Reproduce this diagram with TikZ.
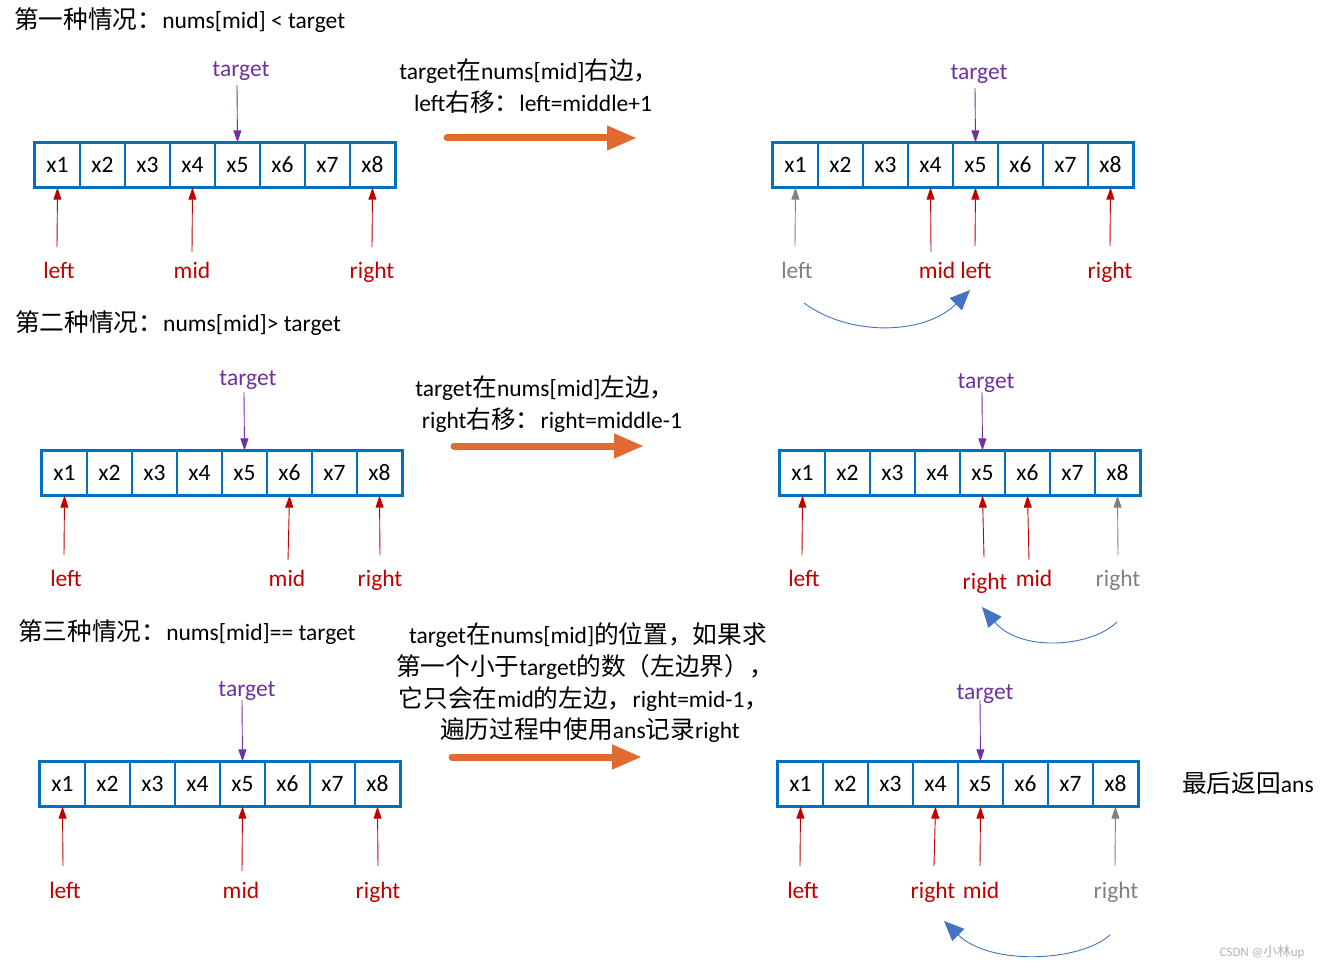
\documentclass[tikz,border=0pt]{standalone}
\usepackage{fontspec}
\setmainfont{Carlito}
\newfontfamily\cjk[Scale=1.05]{Noto Sans CJK SC}
\usetikzlibrary{arrows.meta}
\definecolor{boxblue}{RGB}{0,112,192}
\definecolor{tpurple}{RGB}{112,48,160}
\definecolor{pred}{RGB}{192,0,0}
\definecolor{pgray}{RGB}{128,128,128}
\definecolor{porange}{RGB}{224,106,50}
\definecolor{cblue}{RGB}{68,114,196}
\newcommand\myfs{\fontsize{23.5}{32}\selectfont}
\tikzset{
  cell/.style={draw=boxblue, line width=1.3pt, minimum width=45pt, minimum height=44pt, inner sep=0pt, font=\myfs},
  outerbox/.style={draw=boxblue, line width=2pt},
  lbl/.style={font=\myfs, inner sep=0pt, anchor=base},
  ptr/.style={-{Triangle[width=8pt,length=12pt]}, line width=0.9pt},
  bigarrow/.style={porange, line width=7pt, line cap=round, -{Triangle[width=23pt,length=30pt]}},
  curvearrow/.style={cblue, line width=0.9pt, -{Triangle[width=17pt,length=20pt]}},
  txt/.style={font=\myfs, inner sep=0pt, align=center, anchor=base},
}
\newcommand\cellrow[3]{%
  \foreach \i in {1,...,8} {\node[cell] (#1\i) at ({#2+22.5+45*(\i-1)},{#3+22}) {x\i};}
  \draw[outerbox] (#11.north west) rectangle (#18.south east);
}
\begin{document}
\begin{tikzpicture}[x=1pt,y=-1pt]
\useasboundingbox[fill=white] (0,0) rectangle (1325,968);

% ---------------- Panel 1 ----------------
\node[lbl, anchor=base west] (t1) at (14,29) {{\cjk 第一种情况：}nums[mid] < target};
\cellrow{pa}{35}{143}
\node[lbl, tpurple] (pat) at (241,77) {target};
\coordinate (pats) at (237,85);
\draw[ptr, tpurple] (pats) -- (pa5.north);
\node[lbl, pred] (pal) at (59,279) {left};
\node[lbl, pred] (pam) at (192,279) {mid};
\node[lbl, pred] (par) at (372,279) {right};
\coordinate (pals) at (57,247);
\coordinate (pams) at (192,252);
\coordinate (pars) at (372,247);
\draw[ptr, pred] (pals) -- (pa1.south);
\draw[ptr, pred] (pams) -- (pa4.south);
\draw[ptr, pred] (pars) -- (pa8.south);

\node[txt] (pax1) at (529,80) {target{\cjk 在}nums[mid]{\cjk 右边，}};
\node[txt] (pax2) at (533,112) {left{\cjk 右移：}left=middle+1};
\coordinate (paa1) at (447,138);
\coordinate (paa2) at (637,138);
\draw[bigarrow] (paa1) -- (paa2);

\cellrow{pb}{773}{143}
\node[lbl, tpurple] (pbt) at (979,80) {target};
\coordinate (pbts) at (975,88);
\draw[ptr, tpurple] (pbts) -- (pb5.north);
\node[lbl, pgray] (pbl) at (797,279) {left};
\node[lbl, pred] (pbm) at (937,279) {mid};
\node[lbl, pred] (pbl2) at (976,279) {left};
\node[lbl, pred] (pbr) at (1110,279) {right};
\coordinate (pbls) at (795,246);
\coordinate (pbms) at (931,252);
\coordinate (pbl2s) at (975,246);
\coordinate (pbrs) at (1110,246);
\draw[ptr, pgray] (pbls) -- (pb1.south);
\draw[ptr, pred] (pbms) -- (pb4.south);
\draw[ptr, pred] (pbl2s) -- (pb5.south);
\draw[ptr, pred] (pbrs) -- (pb8.south);
\coordinate (pbc1) at (804,303);
\coordinate (pbc2) at (970,290);
\draw[curvearrow] (pbc1) .. controls (850,337) and (925,335) .. (pbc2);

% ---------------- Panel 2 ----------------
\node[lbl, anchor=base west] (t2) at (15,331) {{\cjk 第二种情况：}nums[mid]> target};
\cellrow{qa}{42}{451}
\node[lbl, tpurple] (qat) at (248,385) {target};
\coordinate (qats) at (244,392);
\draw[ptr, tpurple] (qats) -- (qa5.north);
\node[lbl, pred] (qal) at (66,586) {left};
\node[lbl, pred] (qam) at (287,586) {mid};
\node[lbl, pred] (qar) at (380,586) {right};
\coordinate (qals) at (64,555);
\coordinate (qams) at (288,560);
\coordinate (qars) at (380,555);
\draw[ptr, pred] (qals) -- (qa1.south);
\draw[ptr, pred] (qams) -- (qa6.south);
\draw[ptr, pred] (qars) -- (qa8.south);

\node[txt] (qax1) at (545,396) {target{\cjk 在}nums[mid]{\cjk 左边，}};
\node[txt] (qax2) at (552,428) {right{\cjk 右移：}right=middle-1};
\coordinate (qaa1) at (454,446);
\coordinate (qaa2) at (644,446);
\draw[bigarrow] (qaa1) -- (qaa2);

\cellrow{qb}{780}{451}
\node[lbl, tpurple] (qbt) at (986,388) {target};
\coordinate (qbts) at (982,392);
\draw[ptr, tpurple] (qbts) -- (qb5.north);
\node[lbl, pred] (qbl) at (804,586) {left};
\node[lbl, pred] (qbr) at (985,589) {right};
\node[lbl, pred] (qbm) at (1034,586) {mid};
\node[lbl, pgray] (qbr2) at (1118,586) {right};
\coordinate (qbls) at (802,555);
\coordinate (qbrs) at (984,557);
\coordinate (qbms) at (1029,560);
\coordinate (qbr2s) at (1118,555);
\draw[ptr, pred] (qbls) -- (qb1.south);
\draw[ptr, pred] (qbrs) -- (qb5.south);
\draw[ptr, pred] (qbms) -- (qb6.south);
\draw[ptr, pgray] (qbr2s) -- (qb8.south);
\coordinate (qbc1) at (1117,622);
\coordinate (qbc2) at (982,607);
\draw[curvearrow] (qbc1) .. controls (1090,648) and (1020,652) .. (qbc2);

% ---------------- Panel 3 ----------------
\node[lbl, anchor=base west] (t3) at (18,640) {{\cjk 第三种情况：}nums[mid]== target};
\cellrow{ra}{40}{762}
\node[lbl, tpurple] (rat) at (247,696) {target};
\coordinate (rats) at (242,700);
\draw[ptr, tpurple] (rats) -- (ra5.north);
\node[lbl, pred] (ral) at (65,898) {left};
\node[lbl, pred] (ram) at (241,898) {mid};
\node[lbl, pred] (rar) at (378,898) {right};
\coordinate (rals) at (63,866);
\coordinate (rams) at (242,871);
\coordinate (rars) at (378,866);
\draw[ptr, pred] (rals) -- (ra1.south);
\draw[ptr, pred] (rams) -- (ra5.south);
\draw[ptr, pred] (rars) -- (ra8.south);

\node[txt] (rax1) at (588,643) {target{\cjk 在}nums[mid]{\cjk 的位置，如果求}};
\node[txt] (rax2) at (585,675) {{\cjk 第一个小于}target{\cjk 的数（左边界），}};
\node[txt] (rax3) at (584,707) {{\cjk 它只会在}mid{\cjk 的左边，}right=mid-1{\cjk ，}};
\node[txt] (rax4) at (590,738) {{\cjk 遍历过程中使用}ans{\cjk 记录}right};
\coordinate (raa1) at (452,757);
\coordinate (raa2) at (642,757);
\draw[bigarrow] (raa1) -- (raa2);

\cellrow{rb}{778}{762}
\node[lbl, tpurple] (rbt) at (985,699) {target};
\coordinate (rbts) at (980,700);
\draw[ptr, tpurple] (rbts) -- (rb5.north);
\node[lbl, pred] (rbl) at (803,898) {left};
\node[lbl, pred] (rbr) at (933,898) {right};
\node[lbl, pred] (rbm) at (981,898) {mid};
\node[lbl, pgray] (rbr2) at (1116,898) {right};
\coordinate (rbls) at (800,866);
\coordinate (rbrs) at (934,866);
\coordinate (rbms) at (980,866);
\coordinate (rbr2s) at (1115,866);
\draw[ptr, pred] (rbls) -- (rb1.south);
\draw[ptr, pred] (rbrs) -- (rb4.south);
\draw[ptr, pred] (rbms) -- (rb5.south);
\draw[ptr, pgray] (rbr2s) -- (rb8.south);
\coordinate (rbc1) at (1110,935);
\coordinate (rbc2) at (944,921);
\draw[curvearrow] (rbc1) .. controls (1080,962) and (990,966) .. (rbc2);

\node[lbl] (ans) at (1248,792) {{\cjk 最后返回}ans};
\node[lbl, font=\fontsize{13}{15}\selectfont, text=black!30] (wm) at (1262,956) {CSDN @{\cjk 小林}up};
\end{tikzpicture}
\end{document}
